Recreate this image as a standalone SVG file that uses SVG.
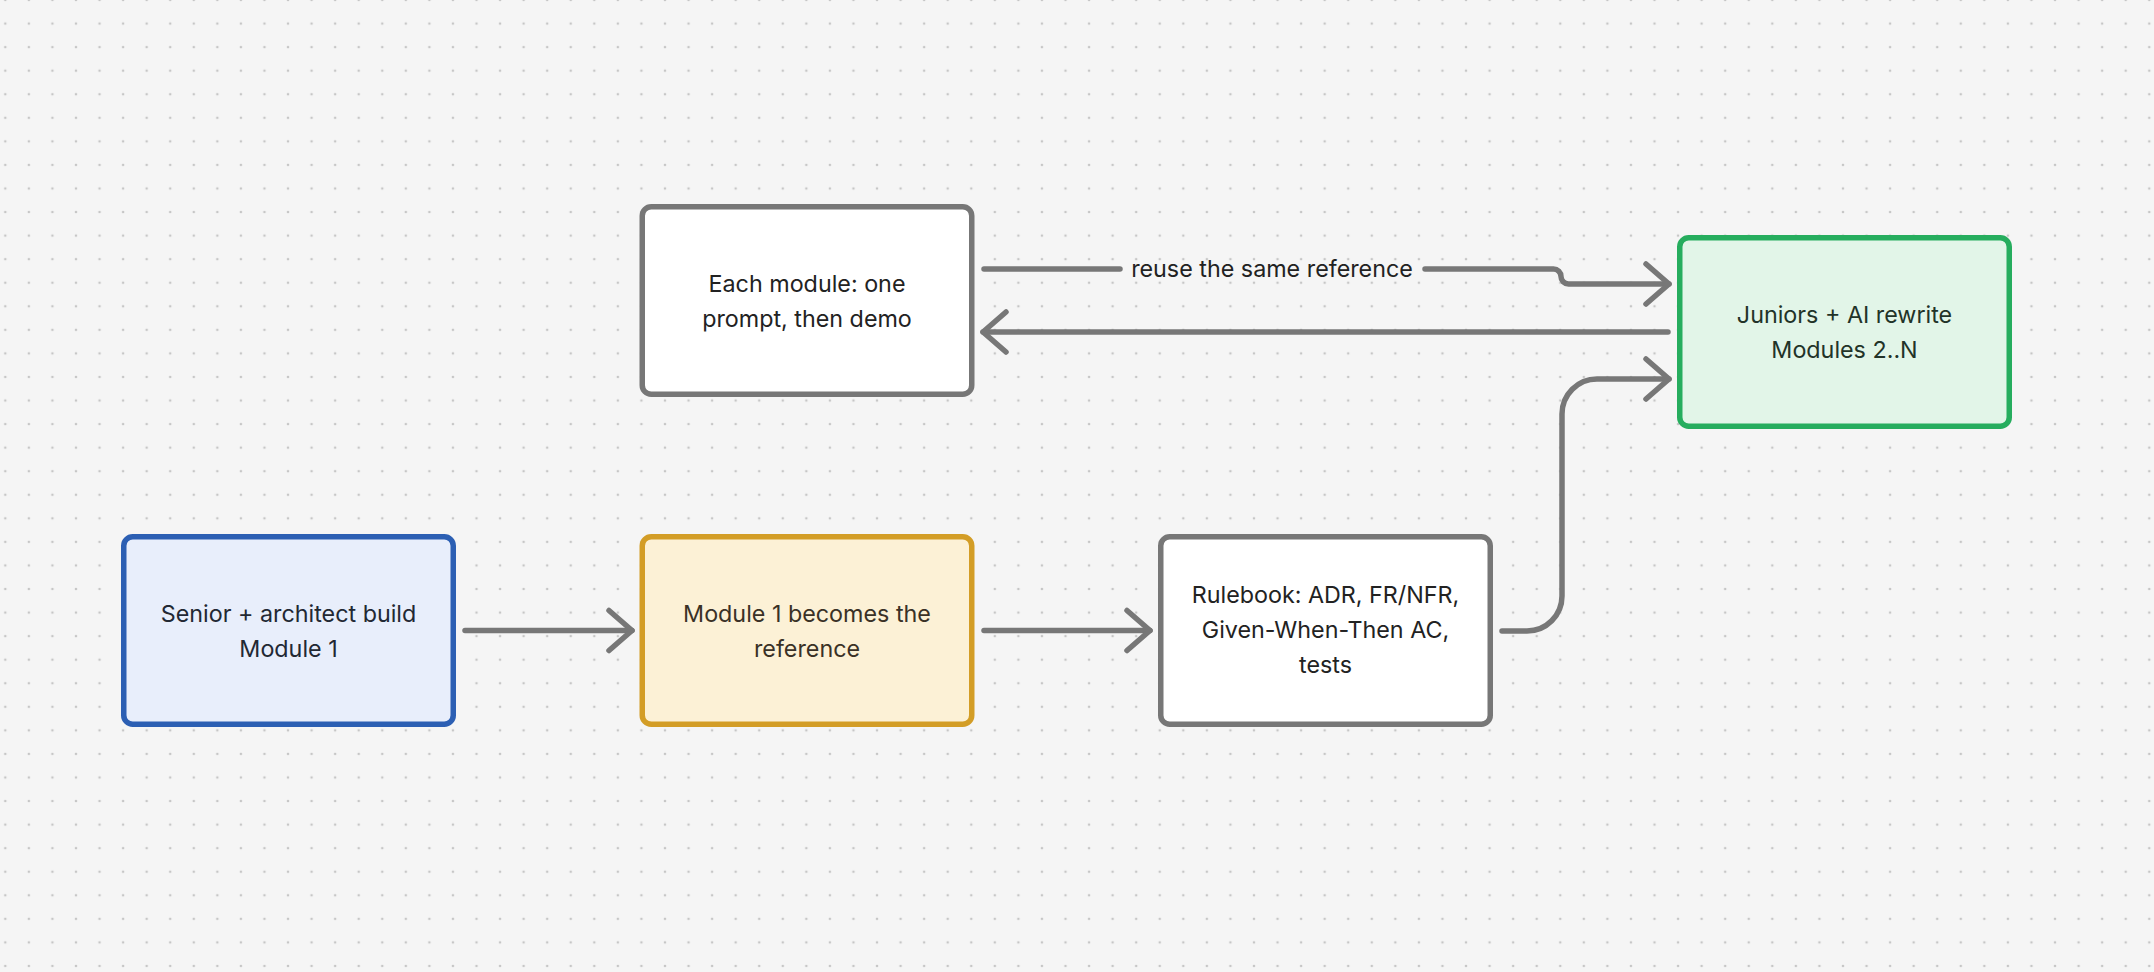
<svg xmlns="http://www.w3.org/2000/svg" width="2154" height="972" viewBox="0 0 2154 972">
  <defs>
    <pattern id="dots" patternUnits="userSpaceOnUse" x="-6.48" y="-11.78" width="23.56" height="23.56">
      <circle cx="11.78" cy="11.78" r="1.3" fill="#c6c6c6"/>
    </pattern>
    <marker id="chev" viewBox="-26 -24 32 48" markerWidth="32" markerHeight="48" refX="0" refY="0" orient="auto" markerUnits="userSpaceOnUse">
      <path d="M-23,-20 L0,0 L-23,20" fill="none" stroke="#777777" stroke-width="5.5" stroke-linecap="round" stroke-linejoin="round"/>
    </marker>
  </defs>
  <style>
    .node rect { stroke-width: 5.5; }
    .grey rect { fill: #ffffff; stroke: #777777; }
    .blue rect { fill: #e8eefb; stroke: #2c5fb3; }
    .gold rect { fill: #fcf1d6; stroke: #d39d26; }
    .green rect { fill: #e2f5e8; stroke: #26ad5e; }
    text { font-family: Inter, "Noto Sans", "Liberation Sans", sans-serif; font-size: 23.3px; text-anchor: middle; fill: #222222; }
    .blue text { fill: #222833; }
    .gold text { fill: #3a3126; }
    .green text { fill: #223328; }
    .conn path { fill: none; stroke: #777777; stroke-width: 5.5; stroke-linecap: round; stroke-linejoin: round; }
  </style>
  <rect x="0" y="0" width="2154" height="972" fill="#f5f5f5"/>
  <rect x="0" y="0" width="2154" height="972" fill="url(#dots)"/>

  <g id="connectors" class="conn">
    <path d="M465,630.5 H632" marker-end="url(#chev)"/>
    <path d="M984,630.5 H1150" marker-end="url(#chev)"/>
    <path d="M1502,631 H1527 A35,35 0 0 0 1562,596 V414 A35,35 0 0 1 1597,379 H1669" marker-end="url(#chev)"/>
    <path d="M984,269 H1120"/>
    <path d="M1425,269 H1553.5 A7.5,7.5 0 0 1 1561,276.5 A7.5,7.5 0 0 0 1568.5,284 H1669" marker-end="url(#chev)"/>
    <text x="1272" y="277">reuse the same reference</text>
    <path d="M1668,332 H983" marker-end="url(#chev)"/>
  </g>

  <g id="senior" class="node blue">
    <rect x="123.75" y="536.75" width="329.5" height="187.5" rx="9"/>
    <text x="288.5" y="622">Senior + architect build</text>
    <text x="288.5" y="657">Module 1</text>
  </g>
  <g id="module1" class="node gold">
    <rect x="642.25" y="536.75" width="329.5" height="187.5" rx="9"/>
    <text x="807" y="622">Module 1 becomes the</text>
    <text x="807" y="657">reference</text>
  </g>
  <g id="rulebook" class="node grey">
    <rect x="1160.75" y="536.75" width="329.5" height="187.5" rx="9"/>
    <text x="1325.5" y="603">Rulebook: ADR, FR/NFR,</text>
    <text x="1325.5" y="638">Given-When-Then AC,</text>
    <text x="1325.5" y="673">tests</text>
  </g>
  <g id="each-module" class="node grey">
    <rect x="642.25" y="206.75" width="329.5" height="187.5" rx="9"/>
    <text x="807" y="291.5">Each module: one</text>
    <text x="807" y="326.5">prompt, then demo</text>
  </g>
  <g id="juniors" class="node green">
    <rect x="1679.75" y="237.75" width="329.5" height="188.5" rx="9"/>
    <text x="1844.5" y="322.5">Juniors + AI rewrite</text>
    <text x="1844.5" y="357.5">Modules 2..N</text>
  </g>
</svg>
